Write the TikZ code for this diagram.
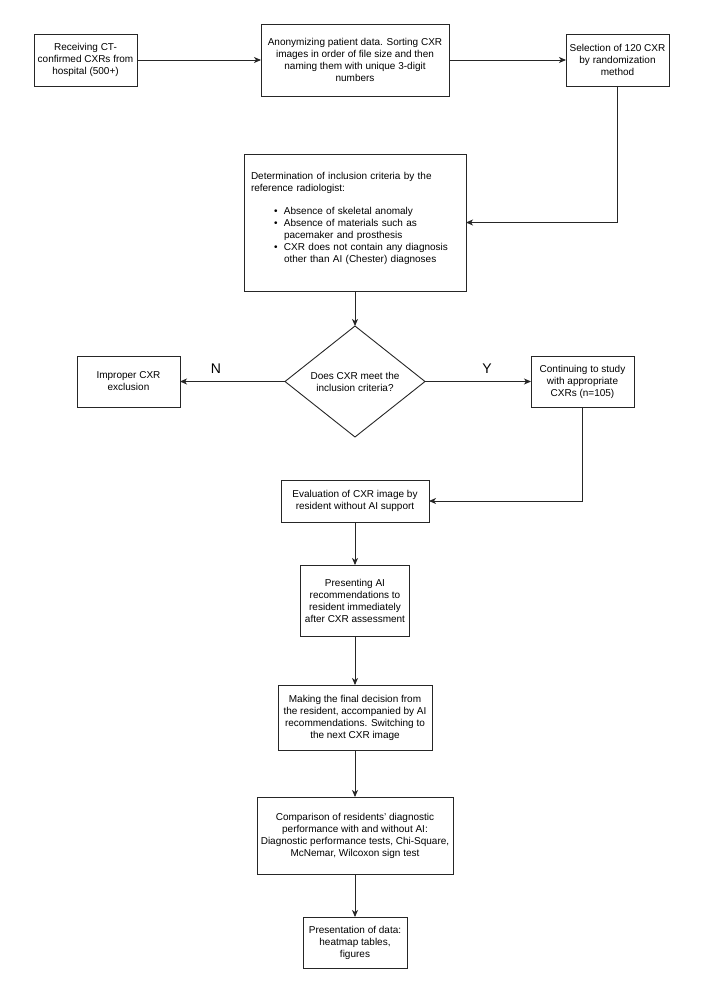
\documentclass[tikz,border=0pt]{standalone}
\usepackage{fontspec}
\setmainfont{Liberation Sans}
\usetikzlibrary{shapes.geometric,arrows.meta}
\begin{document}
\begin{tikzpicture}[x=1pt, y=-1pt, outer sep=0pt]
\useasboundingbox (0,0) rectangle (709,1003);

\tikzstyle{stepbox}=[draw=black!85, line width=0.9pt, rectangle, align=center, inner sep=0pt, font=\fontsize{10}{12}\selectfont]
\tikzstyle{decision}=[draw=black!85, line width=0.9pt, diamond, aspect=1.26, align=center, inner sep=0pt, font=\fontsize{10}{12}\selectfont]
\tikzstyle{flow}=[draw=black!85, line width=0.9pt, -{Stealth[length=7pt,width=6pt,inset=2pt]}]
\tikzstyle{answer}=[font=\fontsize{14}{16}\selectfont, inner sep=0pt]

\node[stepbox, minimum width=103, minimum height=52] (receive) at (85.5,60) {Receiving CT-\\confirmed CXRs from\\hospital (500+)};
\node[stepbox, minimum width=188, minimum height=72] (anon) at (355,60) {Anonymizing patient data. Sorting CXR\\images in order of file size and then\\naming them with unique 3-digit\\numbers};
\node[stepbox, minimum width=103, minimum height=52] (select) at (617.5,60) {Selection of 120 CXR\\by randomization\\method};

\node[stepbox, minimum width=222, minimum height=137, text width=208pt, align=left] (crit) at (355,222.5) {Determination of inclusion criteria by the\\reference radiologist:\\[11pt]
\hspace*{23pt}\makebox[10pt][l]{\textbullet}Absence of skeletal anomaly\\
\hspace*{23pt}\makebox[10pt][l]{\textbullet}Absence of materials such as\\
\hspace*{33pt}pacemaker and prosthesis\\
\hspace*{23pt}\makebox[10pt][l]{\textbullet}CXR does not contain any diagnosis\\
\hspace*{33pt}other than AI (Chester) diagnoses\rule[-9.5pt]{0pt}{0pt}};

\node[decision, minimum width=140, minimum height=111] (check) at (355,381.5) {Does CXR meet the\\inclusion criteria?};
\node[stepbox, minimum width=103, minimum height=51] (exclude) at (128.5,381.5) {Improper CXR\\exclusion};
\node[stepbox, minimum width=103, minimum height=51] (cont) at (582.5,381.5) {Continuing to study\\with appropriate\\CXRs (n=105)};
\node[answer] (labN) at (216,369) {N}; \node[answer] (labY) at (487,369) {Y};

\node[stepbox, minimum width=148, minimum height=42] (evalres) at (355,501) {Evaluation of CXR image by\\resident without AI support};
\node[stepbox, minimum width=109, minimum height=71] (present) at (355,600.5) {Presenting AI\\recommendations to\\resident immediately\\after CXR assessment};
\node[stepbox, minimum width=154, minimum height=65] (final) at (355,717.5) {Making the final decision from\\the resident, accompanied by AI\\recommendations. Switching to\\the next CXR image};
\node[stepbox, minimum width=196, minimum height=77] (compare) at (355,835.5) {Comparison of residents' diagnostic\\performance with and without AI:\\Diagnostic performance tests, Chi-Square,\\McNemar, Wilcoxon sign test};
\node[stepbox, minimum width=104, minimum height=51] (report) at (355,942.5) {Presentation of data:\\heatmap tables,\\figures};

\draw[flow] (receive) -- (anon);
\draw[flow] (anon) -- (select);
\draw[flow] (select) |- (crit);
\draw[flow] (crit) -- (check);
\draw[flow] (check) -- (exclude);
\draw[flow] (check) -- (cont);
\draw[flow] (cont) |- (evalres);
\draw[flow] (evalres) -- (present);
\draw[flow] (present) -- (final);
\draw[flow] (final) -- (compare);
\draw[flow] (compare) -- (report);

\end{tikzpicture}
\end{document}
